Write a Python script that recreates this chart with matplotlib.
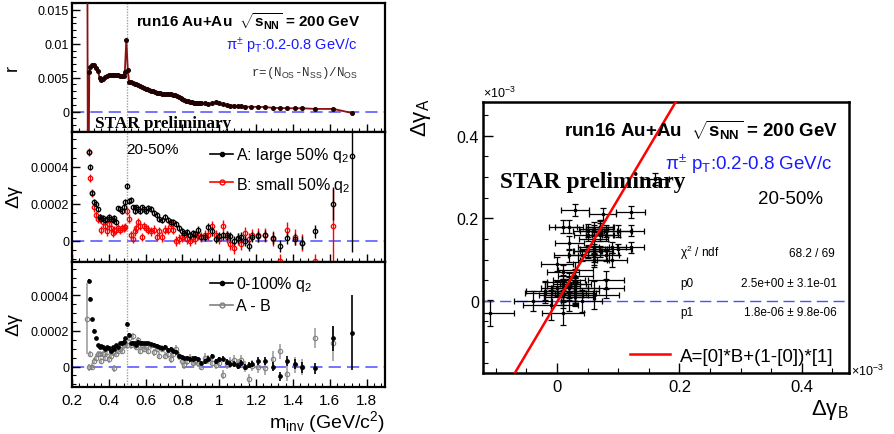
import numpy as np
import matplotlib
matplotlib.use('Agg')
import matplotlib.pyplot as plt
from matplotlib.ticker import MultipleLocator
from matplotlib.lines import Line2D

plt.rcParams['font.family'] = ['Liberation Sans', 'DejaVu Sans']
plt.rcParams['mathtext.fontset'] = 'custom'
plt.rcParams['mathtext.rm'] = 'Liberation Sans'
plt.rcParams['mathtext.it'] = 'Liberation Sans:italic'
plt.rcParams['mathtext.bf'] = 'Liberation Sans:bold'

nan = np.nan

# ---- top panel: r = (N_OS - N_SS) / N_OS vs m_inv
m_r = [0.281, 0.287, 0.294, 0.30, 0.31, 0.32, 0.33, 0.34, 0.35, 0.36, 0.37, 0.38, 0.39,
       0.40, 0.41, 0.42, 0.43, 0.44, 0.45, 0.46, 0.47, 0.48, 0.487, 0.495, 0.503,
       0.51, 0.52, 0.53, 0.54, 0.55, 0.56, 0.57, 0.58, 0.59, 0.60,
       0.61, 0.62, 0.63, 0.64, 0.65, 0.66, 0.67, 0.68, 0.69, 0.70,
       0.71, 0.72, 0.73, 0.74, 0.75, 0.76, 0.77, 0.78, 0.79, 0.80,
       0.81, 0.82, 0.83, 0.84, 0.85, 0.86, 0.87, 0.88, 0.89, 0.90,
       0.92, 0.94, 0.96, 0.98, 1.00, 1.02, 1.04, 1.06, 1.08, 1.10, 1.12, 1.14, 1.17,
       1.21, 1.25, 1.29, 1.33, 1.37, 1.41, 1.45, 1.52, 1.62, 1.72]
r_val = [0.05, -0.02, 0.0058, 0.0066, 0.0068, 0.0068, 0.0065, 0.0060, 0.0050, 0.0046, 0.0048, 0.0051, 0.0053,
         0.0054, 0.00545, 0.00545, 0.00545, 0.0054, 0.0054, 0.0053, 0.0053, 0.0052, 0.0059, 0.0106, 0.0062,
         0.0044, 0.0043, 0.0042, 0.0041, 0.0040, 0.0039, 0.0038, 0.0036, 0.0035, 0.0034,
         0.0033, 0.0032, 0.0031, 0.0030, 0.0029, 0.0028, 0.0027, 0.0027, 0.00265, 0.0026,
         0.0026, 0.0026, 0.0026, 0.0026, 0.0025, 0.0024, 0.0023, 0.0021, 0.0020, 0.0018,
         0.0017, 0.0016, 0.0015, 0.0014, 0.0014, 0.0013, 0.0013, 0.0013, 0.0012, 0.0012,
         0.0012, 0.0011, 0.0012, 0.0014, 0.0012, 0.0011, 0.0010, 0.0009, 0.0009, 0.0008, 0.0008, 0.00075, 0.0007,
         0.0007, 0.00068, 0.00055, 0.00054, 0.0005, 0.0005, 0.0005, 0.0004, 0.0004, -0.0002]

# ---- delta gamma vs m_inv (values in units of 1e-4)
m_inv = [0.28, 0.29, 0.30, 0.31, 0.32, 0.33, 0.34, 0.35, 0.36, 0.37, 0.38, 0.39, 0.40,
         0.41, 0.42, 0.43, 0.44, 0.45, 0.46, 0.47, 0.48, 0.49, 0.50, 0.51, 0.52,
         0.53, 0.54, 0.55, 0.56, 0.57, 0.58, 0.59, 0.60,
         0.615, 0.63, 0.645, 0.66, 0.675, 0.69, 0.705, 0.72, 0.735, 0.75,
         0.765, 0.78, 0.795, 0.81, 0.825, 0.84, 0.855, 0.87, 0.885, 0.90,
         0.92, 0.94, 0.96, 0.98, 1.00, 1.02, 1.04, 1.06, 1.08, 1.10, 1.12, 1.14, 1.16, 1.18,
         1.21, 1.25, 1.29, 1.33, 1.37, 1.41, 1.45, 1.52, 1.62, 1.72]

dg_A = [nan, 4.8, 4.0, 2.6, 2.1, 2.0, 1.7, 1.3, 1.2, 1.25, 1.1, 1.2, 1.3,
        1.2, 1.1, 1.25, 1.0, 1.75, 1.7, 1.6, 1.8, 2.1, 2.95, 2.15, 2.2,
        1.8, 1.6, 1.8, 1.7, 1.6, 1.8, 1.7, 1.6,
        1.75, 1.7, 1.5, 1.4, 1.2, 1.1, 1.3, 1.1, 1.0, 1.0,
        0.9, 0.7, 0.5, 0.4, 0.45, 0.3, 0.4, 0.35, 0.6, 0.2,
        0.2, 0.75, 0.5, 0.1, 0.25, 0.3, 0.3, 0.25, 0.0, 0.15, 0.2, 0.0, -0.3, 0.2,
        0.25, 0.3, 0.15, -0.3, 0.15, 0.1, -0.1, 0.5, 2.0, 4.57]
err_A = [nan, 0.15, 0.15, 0.14, 0.13, 0.13, 0.13, 0.13, 0.13, 0.13, 0.13, 0.13, 0.13,
         0.13, 0.13, 0.13, 0.13, 0.14, 0.14, 0.14, 0.14, 0.14, 0.15, 0.15, 0.15,
         0.15, 0.15, 0.15, 0.15, 0.15, 0.15, 0.15, 0.15,
         0.16, 0.16, 0.16, 0.16, 0.16, 0.16, 0.16, 0.16, 0.17, 0.17,
         0.17, 0.17, 0.17, 0.17, 0.18, 0.18, 0.18, 0.18, 0.18, 0.18,
         0.2, 0.2, 0.22, 0.22, 0.22, 0.24, 0.24, 0.24, 0.25, 0.25, 0.26, 0.26, 0.28, 0.28,
         0.3, 0.3, 0.32, 0.32, 0.34, 0.34, 0.36, 0.35, 0.9, 5.2]

dg_B = [nan, 4.8, 3.4, 2.6, 1.8, 1.4, 1.2, 1.2, 0.6, 1.0, 0.8, 0.5, 0.9,
        0.7, 0.4, 0.6, 0.6, 0.7, 0.6, 0.7, 0.7, 0.75, 1.6, 1.2, 0.3,
        0.1, 0.5, 0.7, 1.0, 0.8, 0.2, 0.8, 0.7,
        0.6, 0.5, 0.6, 0.2, 0.5, 0.2, 0.6, 0.6, 0.9, 0.6,
        0.0, 0.1, 0.2, 0.3, 0.1, 0.0, 0.2, 0.1, 0.3, 0.2,
        0.3, 0.3, 0.8, 0.3, 0.1, 0.8, 0.2, -0.2, -0.4, 0.1, -0.2, 0.4, 0.1, 0.3,
        0.3, 0.3, 0.1, -1.1, 0.6, 0.2, -0.1, -1.1, 0.8, nan]
err_B = [nan, 0.22, 0.22, 0.22, 0.22, 0.22, 0.22, 0.22, 0.22, 0.22, 0.22, 0.22, 0.22,
         0.22, 0.22, 0.22, 0.22, 0.22, 0.22, 0.22, 0.22, 0.22, 0.23, 0.23, 0.23,
         0.23, 0.23, 0.23, 0.23, 0.23, 0.23, 0.23, 0.23,
         0.24, 0.24, 0.24, 0.24, 0.24, 0.25, 0.25, 0.25, 0.25, 0.25,
         0.26, 0.26, 0.26, 0.26, 0.27, 0.27, 0.27, 0.27, 0.28, 0.28,
         0.28, 0.28, 0.29, 0.29, 0.3, 0.3, 0.3, 0.31, 0.31, 0.32, 0.32, 0.33, 0.34, 0.34,
         0.38, 0.38, 0.4, 0.4, 0.42, 0.42, 0.45, 0.4, 2.0, nan]

dg_all = [nan, 4.8, 3.8, 2.65, 2.0, 1.6, 1.2, 1.1, 1.15, 1.1, 1.0, 1.1, 1.05,
          0.9, 1.1, 1.0, 1.2, 1.1, 1.3, 1.35, 1.4, 1.6, 2.4, 1.8, 1.3,
          1.35, 1.3, 1.2, 1.4, 1.3, 1.35, 1.3, 1.3,
          1.3, 1.25, 1.2, 1.15, 1.1, 1.05, 1.1, 0.95, 1.0, 0.9,
          0.8, 0.6, 0.55, 0.5, 0.5, 0.4, 0.45, 0.5, 0.4, 0.2,
          0.3, 0.45, 0.6, 0.3, 0.4, 0.45, 0.25, 0.15, 0.15, 0.05, 0.2, 0.0, 0.1, 0.15,
          0.3, 0.3, 0.0, -0.55, 0.3, 0.15, -0.05, -0.1, 1.6, 1.9]
err_all = [nan, 0.1, 0.1, 0.09, 0.09, 0.08, 0.08, 0.08, 0.08, 0.08, 0.08, 0.08, 0.08,
           0.08, 0.08, 0.08, 0.08, 0.08, 0.08, 0.08, 0.09, 0.09, 0.09, 0.09, 0.09,
           0.09, 0.09, 0.09, 0.09, 0.09, 0.09, 0.09, 0.09,
           0.1, 0.1, 0.1, 0.1, 0.1, 0.1, 0.1, 0.1, 0.1, 0.1,
           0.11, 0.11, 0.11, 0.11, 0.12, 0.12, 0.12, 0.12, 0.12, 0.12,
           0.13, 0.13, 0.13, 0.14, 0.14, 0.14, 0.15, 0.15, 0.15, 0.16, 0.16, 0.17, 0.17, 0.18,
           0.22, 0.24, 0.25, 0.25, 0.28, 0.3, 0.3, 0.3, 0.7, 2.1]

dg_diff = [2.7, -0.05, 0.7, 0.0, 0.3, 0.5, 0.7, 0.7, 0.3, 0.7, 0.5, 0.8, 0.4,
           0.6, 0.8, -0.1, 0.7, 0.9, 1.0, 0.9, 1.2, 1.3, 1.2, 1.6, 1.2,
           1.7, 1.2, 1.1, 1.5, 0.9, 1.2, 1.0, 1.1,
           0.9, 1.2, 0.8, 1.0, 0.6, 1.0, 0.6, 0.7, 0.4, 0.7,
           1.0, 0.6, 0.3, 0.1, 0.3, 0.5, 0.2, 0.3, 0.2, 0.0,
           0.5, 0.4, 0.2, 0.1, 0.2, -0.45, 0.15, 0.25, 0.35, 0.15, 0.35, 0.0, -0.7, 0.05,
           0.0, -0.1, 0.45, 0.85, -0.4, 0.1, 0.0, 1.6, 1.3, nan]
err_diff = [2.0, 0.18, 0.18, 0.18, 0.18, 0.18, 0.18, 0.18, 0.18, 0.18, 0.18, 0.18, 0.18,
            0.18, 0.18, 0.18, 0.18, 0.18, 0.18, 0.19, 0.19, 0.19, 0.19, 0.19, 0.19,
            0.19, 0.19, 0.19, 0.19, 0.19, 0.19, 0.19, 0.19,
            0.2, 0.2, 0.2, 0.2, 0.2, 0.2, 0.2, 0.2, 0.2, 0.2,
            0.21, 0.21, 0.21, 0.21, 0.22, 0.22, 0.22, 0.22, 0.22, 0.22,
            0.25, 0.25, 0.26, 0.26, 0.27, 0.27, 0.28, 0.28, 0.28, 0.29, 0.29, 0.3, 0.3, 0.3,
            0.35, 0.35, 0.4, 0.4, 0.42, 0.45, 0.45, 0.55, 1.0, nan]

# fit result A = p0*B + (1-p0)*p1
p0 = 2.5
p1 = 1.8e-6
chi2_txt = '68.2 / 69'
p0_txt = '2.5e+00 ± 3.1e-01'
p1_txt = '1.8e-06 ± 9.8e-06'

x_ticks = [0.2, 0.4, 0.6, 0.8, 1.0, 1.2, 1.4, 1.6, 1.8]
x_tick_labels = ['0.2', '0.4', '0.6', '0.8', '1', '1.2', '1.4', '1.6', '1.8']

m_inv = np.array(m_inv)
unit = 1e-4
A = np.array(dg_A) * unit
B = np.array(dg_B) * unit
eA = np.array(err_A) * unit
eB = np.array(err_B) * unit
ALL = np.array(dg_all) * unit
eALL = np.array(err_all) * unit
D = np.array(dg_diff) * unit
eD = np.array(err_diff) * unit

W, H = 894, 435
fig = plt.figure(figsize=(W / 100, H / 100), dpi=100)


def box(x0, y0, x1, y1):
    return [x0 / W, 1 - y1 / H, (x1 - x0) / W, (y1 - y0) / H]


def put(px, py, s, **kw):
    fig.text(px / W, 1 - py / H, s, **kw)


def handle(x0, x1, py, **kw):
    y = 1 - py / H
    fig.add_artist(Line2D([x0 / W, x1 / W], [y, y], transform=fig.transFigure, lw=1.2, **kw))
    fig.add_artist(Line2D([(x0 + x1) / 2 / W], [y], transform=fig.transFigure, lw=0, **kw_marker(kw)))


def kw_marker(kw):
    d = dict(kw)
    d['marker'] = d.pop('mk', 'o')
    return d


ax_r = fig.add_axes(box(72, 4, 385, 133))
ax_m = fig.add_axes(box(72, 133, 385, 263))
ax_b = fig.add_axes(box(72, 263, 385, 388))
ax_s = fig.add_axes(box(483, 103, 849, 374))

BLUE = '#1a1aff'
DBLUE = '#4d4dff'
GREY = '#808080'

for ax in (ax_r, ax_m, ax_b):
    ax.set_xlim(0.2, 1.9)
    ax.axhline(0, color=DBLUE, lw=1.1, ls=(0, (8, 4)), zorder=1)
    ax.axvline(0.5, color='#a0a0a0', lw=1.0, ls=(0, (1, 1)), zorder=1)
    ax.set_xticks(x_ticks)
    ax.xaxis.set_minor_locator(MultipleLocator(0.04))
    ax.tick_params(which='both', direction='in', top=False, right=False, labelsize=9, pad=2)
    ax.tick_params(which='major', length=6, width=1)
    ax.tick_params(which='minor', length=3, width=0.8)
    for sp in ax.spines.values():
        sp.set_linewidth(1.6)
    if ax is not ax_b:
        ax.tick_params(labelbottom=False)

ax_b.set_xticklabels(x_tick_labels, fontsize=11)
ax_b.tick_params(axis='x', pad=4)

# top panel
ax_r.plot(m_r, r_val, color='#8b1010', lw=1.3, marker='o', ms=2.6,
          mfc='#200000', mec='#200000', zorder=3)
ax_r.set_ylim(-0.003, 0.016)
ax_r.set_yticks([0, 0.005, 0.01, 0.015])
ax_r.set_yticklabels(['0', '0.005', '0.01', '0.015'])
ax_r.yaxis.set_minor_locator(MultipleLocator(0.001))

# middle panel
ax_m.errorbar(m_inv, B, yerr=eB, fmt='o', ms=3.2, mfc='none', mec='red', mew=0.9,
              ecolor='red', elinewidth=1.0, capsize=0, zorder=3)
ax_m.errorbar(m_inv, A, yerr=eA, fmt='o', ms=3.2, mfc='none', mec='black', mew=0.9,
              ecolor='black', elinewidth=1.0, capsize=0, zorder=4)

# bottom panel
ax_b.errorbar(m_inv, D, yerr=eD, fmt='o', ms=3.2, mfc='none', mec=GREY, mew=0.8,
              ecolor='#a0a0a0', elinewidth=1.2, capsize=0, zorder=3)
ax_b.errorbar(m_inv, ALL, yerr=eALL, fmt='o', ms=2.4, mfc='black', mec='black',
              ecolor='black', elinewidth=1.2, capsize=0, zorder=4)

for ax in (ax_m, ax_b):
    ax.set_ylim(-0.000115, 0.000588)
    ax.set_yticks([0, 0.0002, 0.0004])
    ax.set_yticklabels(['0', '0.0002', '0.0004'])
    ax.yaxis.set_minor_locator(MultipleLocator(0.00005))

# right panel: A vs B scatter with fit
sel = (m_inv >= 0.335) & (m_inv <= 1.46) & np.isfinite(A) & np.isfinite(B)
to_e3 = 1e3
ax_s.errorbar(B[sel] * to_e3, A[sel] * to_e3, xerr=eB[sel] * to_e3, yerr=eA[sel] * to_e3,
              fmt='o', ms=1.6, color='black', ecolor='black', elinewidth=0.9,
              capsize=2.2, capthick=0.9, zorder=3)
ax_s.set_xlim(-0.121, 0.477)
ax_s.set_ylim(-0.175, 0.482)
bx = np.array(ax_s.get_xlim())
ax_s.plot(bx, p0 * bx + (1 - p0) * p1 * to_e3, color='red', lw=1.8, zorder=5)
ax_s.axhline(0, color=DBLUE, lw=1.0, ls=(0, (8, 4)), zorder=2)
ax_s.set_xticks([0, 0.2, 0.4])
ax_s.set_xticklabels(['0', '0.2', '0.4'])
ax_s.set_yticks([0, 0.2, 0.4])
ax_s.set_yticklabels(['0', '0.2', '0.4'])
ax_s.xaxis.set_minor_locator(MultipleLocator(0.05))
ax_s.yaxis.set_minor_locator(MultipleLocator(0.05))
ax_s.tick_params(which='both', direction='in', top=False, right=False)
ax_s.tick_params(which='major', length=7, width=1)
ax_s.tick_params(which='minor', length=3.5, width=0.8)
ax_s.tick_params(axis='x', labelsize=12, pad=4)
ax_s.tick_params(axis='y', labelsize=11.5, pad=3)
for sp in ax_s.spines.values():
    sp.set_linewidth(1.8)

# axis titles
put(12, 68, 'r', fontsize=13, rotation=90, ha='center', va='center')
put(14, 197, 'Δγ', fontsize=14, rotation=90, ha='center', va='center')
put(14, 325, 'Δγ', fontsize=14, rotation=90, ha='center', va='center')
put(385, 428, r'm$_{\rm inv}$ (GeV/c$^{2}$)', fontsize=14, ha='right', va='baseline')
put(421, 98, r'Δγ$_{\rm A}$', fontsize=16, rotation=90, ha='center', va='top')
put(849, 398, r'Δγ$_{\rm B}$', fontsize=16, ha='right', va='top')
put(483, 101, r'×10$^{-3}$', fontsize=9, ha='left', va='bottom')
put(851, 371, r'×10$^{-3}$', fontsize=9, ha='left', va='center')

# top panel texts
put(360, 27, r'run16 Au+Au  $\sqrt{\mathbf{s}_{\mathbf{NN}}}$ = 200 GeV', fontsize=11,
    fontweight='bold', ha='right', va='baseline')
put(357, 50, r'π$^{\pm}$ p$_{\rm T}$:0.2-0.8 GeV/c', fontsize=10.5, color=BLUE,
    ha='right', va='baseline')
put(358, 76, r'r=(N$_{\rm OS}$-N$_{\rm SS}$)/N$_{\rm OS}$', fontsize=9,
    family=['Liberation Mono', 'DejaVu Sans Mono'], color='#333333', ha='right', va='baseline')
put(95, 128, 'STAR preliminary', fontsize=12.3, fontweight='bold',
    family=['Liberation Serif', 'DejaVu Serif'], ha='left', va='baseline')

# middle panel texts and legend
put(126, 154, '20-50%', fontsize=11, ha='left', va='baseline')
handle(210, 233, 155, color='black', mfc='black', mec='black', ms=3)
put(236, 160, r'A: large 50% q$_{2}$', fontsize=11.5, ha='left', va='baseline')
handle(210, 233, 183, color='red', mfc='none', mec='red', ms=3.5)
put(236, 190, r'B: small 50% q$_{2}$', fontsize=11.5, ha='left', va='baseline')

# bottom panel legend
handle(210, 233, 284, color='black', mfc='black', mec='black', ms=3)
put(236, 289, r'0-100% q$_{2}$', fontsize=11.5, ha='left', va='baseline')
handle(210, 233, 306, color=GREY, mfc='none', mec=GREY, ms=3.5)
put(236, 311, 'A - B', fontsize=11.5, ha='left', va='baseline')

# right panel texts
put(838, 137, r'run16 Au+Au  $\sqrt{\mathbf{s}_{\mathbf{NN}}}$ = 200 GeV', fontsize=13.5,
    fontweight='bold', ha='right', va='baseline')
put(833, 170, r'π$^{\pm}$ p$_{\rm T}$:0.2-0.8 GeV/c', fontsize=13.5, color=BLUE,
    ha='right', va='baseline')
put(500, 188, 'STAR preliminary', fontsize=16.8, fontweight='bold',
    family=['Liberation Serif', 'DejaVu Serif'], ha='left', va='baseline')
put(823, 204, '20-50%', fontsize=13.5, ha='right', va='baseline')

put(680, 257, r'χ$^{2}$ / ndf', fontsize=8.5, ha='left', va='baseline')
put(835, 257, chi2_txt, fontsize=8.5, ha='right', va='baseline')
put(680, 287, 'p0', fontsize=8.5, ha='left', va='baseline')
put(837, 287, p0_txt, fontsize=8.5, ha='right', va='baseline')
put(680, 316, 'p1', fontsize=8.5, ha='left', va='baseline')
put(837, 316, p1_txt, fontsize=8.5, ha='right', va='baseline')

yl = 1 - 355 / H
fig.add_artist(Line2D([630 / W, 670 / W], [yl, yl], transform=fig.transFigure, color='red', lw=1.8))
put(680, 362, 'A=[0]*B+(1-[0])*[1]', fontsize=13.5, ha='left', va='baseline')

fig.savefig('out.png', dpi=100)
